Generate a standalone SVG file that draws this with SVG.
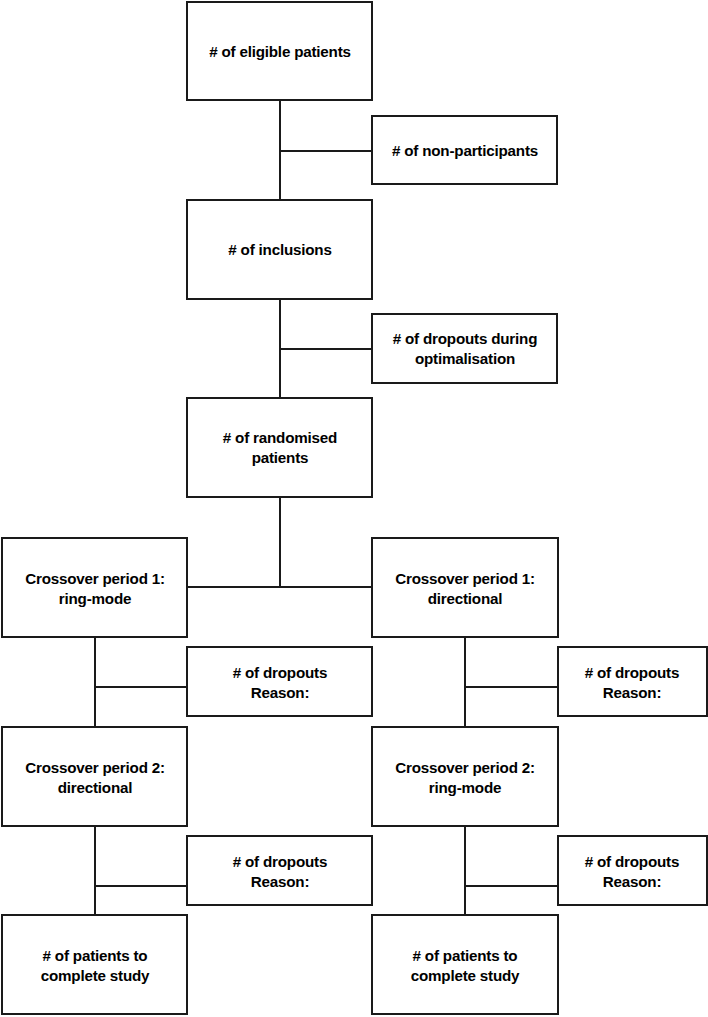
<svg xmlns="http://www.w3.org/2000/svg" width="708" height="1017" viewBox="0 0 708 1017">
<style>
.box{fill:#fff;stroke:#1a1a1a;stroke-width:2}
.ln{fill:none;stroke:#1a1a1a;stroke-width:2}
text{font-family:"Liberation Sans",Arial,sans-serif;font-weight:bold;font-size:15.2px;letter-spacing:-0.2px;fill:#000;text-anchor:middle}
</style>
<rect width="708" height="1017" fill="#fff"/>
<g id="connectors">
<path class="ln" d="M280 100V200M280 151H372M280 299V398M280 349H372M280 497V587M187 587H372"/>
<path class="ln" d="M95 637V727M95 687H187M95 826V915M95 886H187"/>
<path class="ln" d="M465 637V727M465 687H558M465 826V915M465 886H558"/>
</g>
<g id="eligible"><rect class="box" x="187" y="2" width="185" height="98"/><text x="280" y="57"># of eligible patients</text></g>
<g id="nonparticipants"><rect class="box" x="372" y="116" width="185" height="68"/><text x="465" y="156"># of non-participants</text></g>
<g id="inclusions"><rect class="box" x="187" y="200" width="185" height="99"/><text x="280" y="255"># of inclusions</text></g>
<g id="dropouts-opt"><rect class="box" x="372" y="314" width="185" height="69"/><text x="465" y="344"># of dropouts during</text><text x="465" y="364">optimalisation</text></g>
<g id="randomised"><rect class="box" x="187" y="398" width="185" height="99"/><text x="280" y="443"># of randomised</text><text x="280" y="463">patients</text></g>
<g id="cp1-left"><rect class="box" x="2" y="538" width="185" height="99"/><text x="95" y="584">Crossover period 1:</text><text x="95" y="604">ring-mode</text></g>
<g id="cp1-right"><rect class="box" x="372" y="538" width="186" height="99"/><text x="465" y="584">Crossover period 1:</text><text x="465" y="604">directional</text></g>
<g id="drop1-left"><rect class="box" x="187" y="647" width="185" height="69"/><text x="280" y="678"># of dropouts</text><text x="280" y="698">Reason:</text></g>
<g id="drop1-right"><rect class="box" x="558" y="647" width="149" height="69"/><text x="632" y="678"># of dropouts</text><text x="632" y="698">Reason:</text></g>
<g id="cp2-left"><rect class="box" x="2" y="727" width="185" height="99"/><text x="95" y="773">Crossover period 2:</text><text x="95" y="793">directional</text></g>
<g id="cp2-right"><rect class="box" x="372" y="727" width="186" height="99"/><text x="465" y="773">Crossover period 2:</text><text x="465" y="793">ring-mode</text></g>
<g id="drop2-left"><rect class="box" x="187" y="836" width="185" height="69"/><text x="280" y="867"># of dropouts</text><text x="280" y="887">Reason:</text></g>
<g id="drop2-right"><rect class="box" x="558" y="836" width="149" height="69"/><text x="632" y="867"># of dropouts</text><text x="632" y="887">Reason:</text></g>
<g id="complete-left"><rect class="box" x="2" y="915" width="185" height="99"/><text x="95" y="961"># of patients to</text><text x="95" y="981">complete study</text></g>
<g id="complete-right"><rect class="box" x="372" y="915" width="186" height="99"/><text x="465" y="961"># of patients to</text><text x="465" y="981">complete study</text></g>
</svg>
